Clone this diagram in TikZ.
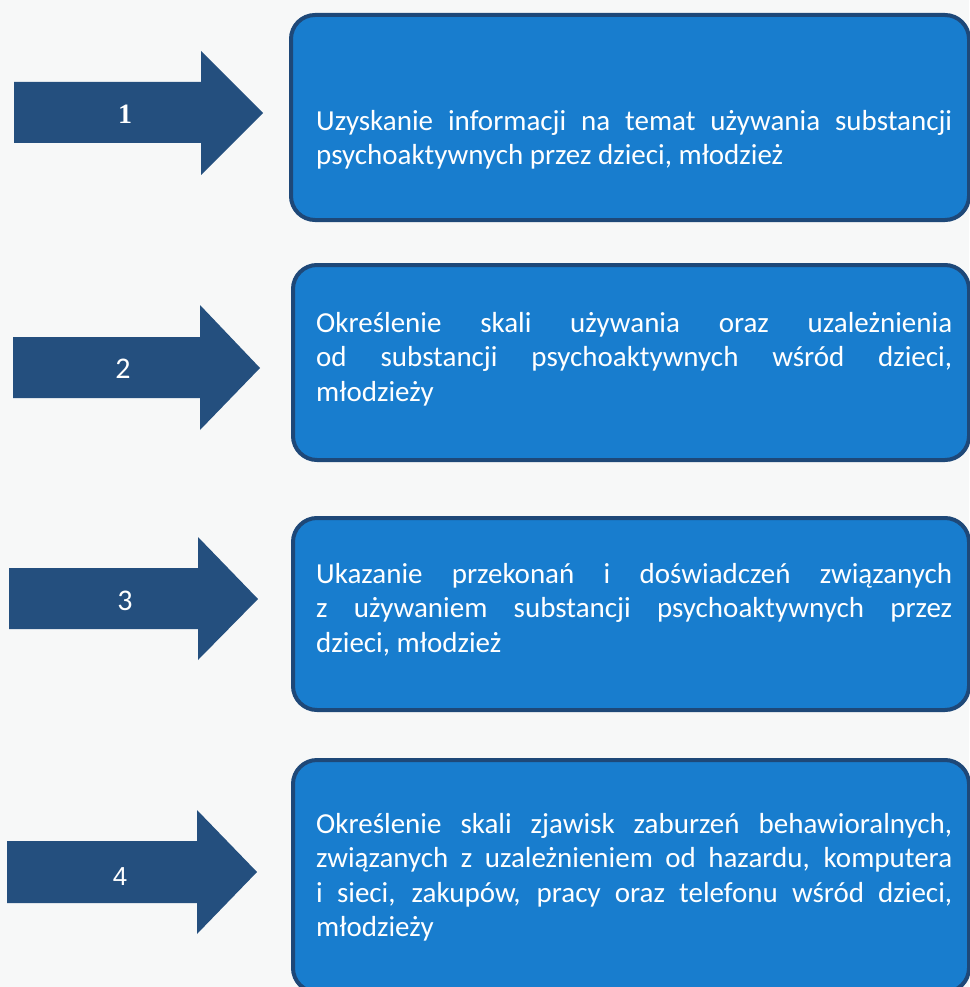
\documentclass[tikz,border=0pt]{standalone}
\usepackage{fontspec}
\setmainfont{Carlito}
\newfontfamily\numserif{Liberation Serif}
\newfontfamily\numsans{Liberation Sans}
\definecolor{boxblue}{RGB}{24,125,206}
\definecolor{boxedge}{RGB}{30,72,120}
\definecolor{arrowblue}{RGB}{36,79,126}
\definecolor{bgcol}{RGB}{247,248,248}
\tikzset{
  stagebox/.style={draw=boxedge, line width=4pt, fill=boxblue, rounded corners=24pt, anchor=north west, inner sep=0pt},
  stagetext/.style={text=white, text width=636pt, align=justify, anchor=north west, inner sep=0pt,
    font=\fontsize{29}{34.5}\selectfont},
  arrowshape/.style={fill=arrowblue},
  numlabel/.style={text=white, font=\fontsize{30}{34}\selectfont, inner sep=0pt}
}
\begin{document}
\begin{tikzpicture}[x=1pt,y=-1pt]
\path[fill=bgcol] (0,0) rectangle (969,987);
\useasboundingbox (0,0) rectangle (969,987);
% boxes
\node[stagebox, minimum width=678pt, minimum height=205pt] (b1) at (289,13) {};
\node[stagebox, minimum width=676pt, minimum height=195pt] (b2) at (291,263) {};
\node[stagebox, minimum width=676pt, minimum height=192pt] (b3) at (291,516) {};
\node[stagebox, minimum width=676pt, minimum height=232pt] (b4) at (291,758) {};
% texts
\node[stagetext] (t1) at (316,110) {Uzyskanie informacji na temat używania substancji\linebreak psychoaktywnych przez dzieci, młodzież};
\node[stagetext] (t2) at (316,312) {Określenie skali używania oraz uzależnienia\linebreak od substancji psychoaktywnych wśród dzieci,\linebreak młodzieży};
\node[stagetext] (t3) at (316,563) {Ukazanie przekonań i doświadczeń związanych\linebreak z używaniem substancji psychoaktywnych przez\linebreak dzieci, młodzież};
\node[stagetext] (t4) at (316,813) {Określenie skali zjawisk zaburzeń behawioralnych,\linebreak związanych z uzależnieniem od hazardu, komputera\linebreak i sieci, zakupów, pracy oraz telefonu wśród dzieci,\linebreak młodzieży};
% arrows
\fill[arrowshape] (14,82) -- (201,82) -- (201,51) -- (263,113) -- (201,175) -- (201,143) -- (14,143) -- cycle;
\fill[arrowshape] (13,337) -- (200,337) -- (200,305) -- (260,368) -- (200,430) -- (200,398) -- (13,398) -- cycle;
\fill[arrowshape] (9,568) -- (198,568) -- (198,537) -- (258,599) -- (198,660) -- (198,629) -- (9,629) -- cycle;
\fill[arrowshape] (7,841) -- (197,841) -- (197,810) -- (257,872) -- (197,934) -- (197,903) -- (7,903) -- cycle;
% numbers
\node[numlabel, font=\numserif\bfseries\fontsize{28}{32}\selectfont] (n1) at (125,114) {1};
\node[numlabel] (n2) at (123,369) {2};
\node[numlabel] (n3) at (125,601) {3};
\node[numlabel, font=\numsans\fontsize{26}{30}\selectfont] (n4) at (120,877) {4};
\end{tikzpicture}
\end{document}
